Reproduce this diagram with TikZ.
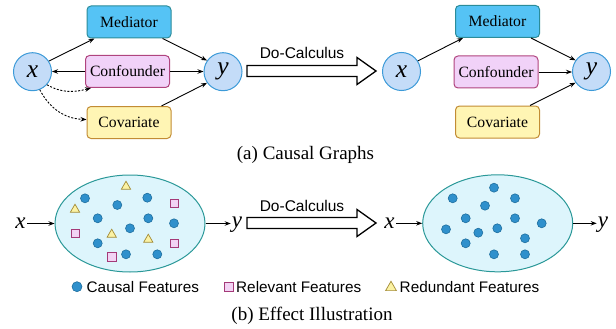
\documentclass[tikz,border=0pt]{standalone}
\usepackage{fontspec}
\setmainfont{Liberation Serif}
\setsansfont{Liberation Sans}
\usetikzlibrary{arrows.meta,shapes.geometric}

\definecolor{varfill}{HTML}{C4DCF8}
\definecolor{varedge}{HTML}{3C9AD8}
\definecolor{medfill}{HTML}{55C3F5}
\definecolor{mededge}{HTML}{2B8C9A}
\definecolor{conffill}{HTML}{F1D2F8}
\definecolor{confedge}{HTML}{B0447E}
\definecolor{covfill}{HTML}{FFF5B4}
\definecolor{covedge}{HTML}{C28C34}
\definecolor{ellfill}{HTML}{DDF5FC}
\definecolor{elledge}{HTML}{2A9898}
\definecolor{dotfill}{HTML}{2F90CC}
\definecolor{dotedge}{HTML}{1E6E9E}
\definecolor{sqfill}{HTML}{F2D3F4}
\definecolor{sqedge}{HTML}{A43A78}
\definecolor{trifill}{HTML}{FBF2A4}
\definecolor{triedge}{HTML}{A38B34}

\begin{document}
\begin{tikzpicture}[x=1pt,y=-1pt,
  var/.style={circle, draw=varedge, fill=varfill, line width=1pt,
    minimum size=38pt, inner sep=0pt,
    font=\fontsize{25.5}{26}\selectfont\itshape},
  box/.style={rectangle, rounded corners=4pt, line width=1pt,
    minimum width=84pt, minimum height=32pt, inner sep=0pt,
    font=\fontsize{15.7}{16}\selectfont},
  medbox/.style={box, draw=mededge, fill=medfill},
  confbox/.style={box, draw=confedge, fill=conffill},
  covbox/.style={box, draw=covedge, fill=covfill},
  link/.style={line width=0.9pt, -{Stealth[length=6pt,width=4.5pt]}},
  dotlink/.style={link, dash pattern=on 2pt off 1.6pt},
  hollow/.style={line width=1.3pt, draw=black, fill=white, line join=miter},
  dolabel/.style={font=\sffamily\fontsize{15.5}{16}\selectfont},
  captext/.style={font=\fontsize{19}{20}\selectfont},
  io/.style={font=\fontsize{23}{23}\selectfont\itshape, inner sep=0pt, anchor=base},
  cloud/.style={ellipse, draw=elledge, fill=ellfill, line width=1pt,
    minimum width=150pt, minimum height=97pt, inner sep=0pt},
  causal/.style={circle, draw=dotedge, fill=dotfill, line width=0.6pt,
    minimum size=9pt, inner sep=0pt},
  relevant/.style={rectangle, draw=sqedge, fill=sqfill, line width=0.7pt,
    minimum size=8.3pt, inner sep=0pt},
  redundant/.style={regular polygon, regular polygon sides=3, draw=triedge,
    fill=trifill, line width=0.7pt, minimum size=10.6pt, inner sep=0pt},
  legend/.style={font=\sffamily\fontsize{15.3}{16}\selectfont, anchor=west, inner sep=0pt}
]
\useasboundingbox (0,0) rectangle (616,329);

% ---------- (a) causal graph before intervention ----------
\node[var] (xa) at (32.5,71.7) {x};
\node[var] (ya) at (223,71.7) {y};
\node[medbox]  (meda)  at (129,22)    {Mediator};
\node[confbox] (confa) at (127.5,71.5) {Confounder};
\node[covbox]  (cova)  at (129,122.5) {Covariate};

\draw[link] (xa.33) -- ([xshift=8pt]meda.south west);
\draw[link] ([xshift=-9pt]meda.south east) -- (ya.145);
\draw[link] (confa.west) -- (confa.west -| xa.east);
\draw[link] (confa.east) -- (confa.east -| ya.west);
\draw[link] ([xshift=-10pt]cova.north east) -- (ya.215);
\draw[dotlink] (xa.-42) to[out=-30,in=195] ([xshift=6pt]confa.south west);
\draw[dotlink] (xa.-68) to[out=-62,in=178] ([yshift=3pt]cova.west);

% do-calculus arrow (top)
\draw[hollow] (247,65.5) -- (357,65.5) -- (357,57.5) -- (376,71) -- (357,84.5) -- (357,76.5) -- (247,76.5) -- cycle;
\node[dolabel] (doa) at (302,53) {Do-Calculus};

% ---------- (a) causal graph after intervention ----------
\node[var] (xb) at (401.5,71.5) {x};
\node[var] (yb) at (591.5,71.5) {y};
\node[medbox]  (medb)  at (497.5,21.5) {Mediator};
\node[confbox] (confb) at (496,72)    {Confounder};
\node[covbox]  (covb)  at (497.5,122) {Covariate};

\draw[link] (xb.33) -- ([xshift=8pt]medb.south west);
\draw[link] ([xshift=-9pt]medb.south east) -- (yb.145);
\draw[link] (confb.east) -- (confb.east -| yb.west);
\draw[link] ([xshift=-10pt]covb.north east) -- (yb.215);

\node[captext] (capa) at (305.5,155) {(a) Causal Graphs};

% ---------- (b) feature space before intervention ----------
\node[cloud] (cl) at (130,223.5) {};
\node[io] (xc) at (20.5,228.5) {x};
\node[io] (yc) at (237,227) {y};
\draw[link] (cl.west -| xc.east) ++(1.5pt,0) -- (cl.west);
\draw[link] (cl.east) -- ([xshift=-1pt]cl.east -| yc.west);

\foreach \p [count=\i] in {(85,198.3),(117.3,205),(147.3,197.7),(97.7,218.3),
    (148.3,218.3),(174,223.3),(130,228.3),(97.7,243.3),(126,254.3),(157.3,254.3)}
  \node[causal] (ca\i) at \p {};
\foreach \p [count=\i] in {(174,203.3),(75,233.3),(174,243.3),(111.7,256.7)}
  \node[relevant] (re\i) at \p {};
\foreach \p [count=\i] in {(126,186.5),(75,209.5),(111.7,234.5),(148.3,239.5)}
  \node[redundant] (rd\i) at \p {};

% do-calculus arrow (bottom)
\draw[hollow] (247,217.5) -- (357,217.5) -- (357,209.5) -- (376,223) -- (357,236.5) -- (357,228.5) -- (247,228.5) -- cycle;
\node[dolabel] (dob) at (302,205.5) {Do-Calculus};

% ---------- (b) feature space after intervention ----------
\node[cloud] (cr) at (497.7,223.3) {};
\node[io] (xd) at (389.5,228.5) {x};
\node[io] (yd) at (603,227) {y};
\draw[link] (cr.west -| xd.east) ++(1.5pt,0) -- (cr.west);
\draw[link] (cr.east) -- ([xshift=-1pt]cr.east -| yd.west);

\foreach \p [count=\i] in {(494,187.7),(452.7,198.3),(515,198.3),(485,205.7),
    (465.7,218.3),(515,218.3),(541.7,223.3),(446,229.3),(478.3,232.7),
    (497.3,228.3),(525,238.3),(465.7,243.3),(494,254.3),(525,254.3)}
  \node[causal] (cb\i) at \p {};

% legend
\node[causal, minimum size=10pt] (lgc) at (77,286.7) {};
\node[legend] (lgct) at (86.5,286.7) {Causal Features};
\node[relevant, minimum size=8.5pt] (lgr) at (228.7,286.7) {};
\node[legend] (lgrt) at (236,286.7) {Relevant Features};
\node[redundant, minimum size=12.5pt] (lgd) at (391,287.5) {};
\node[legend] (lgdt) at (399.5,286.7) {Redundant Features};

\node[captext] (capb) at (312,316) {(b) Effect Illustration};
\end{tikzpicture}
\end{document}
